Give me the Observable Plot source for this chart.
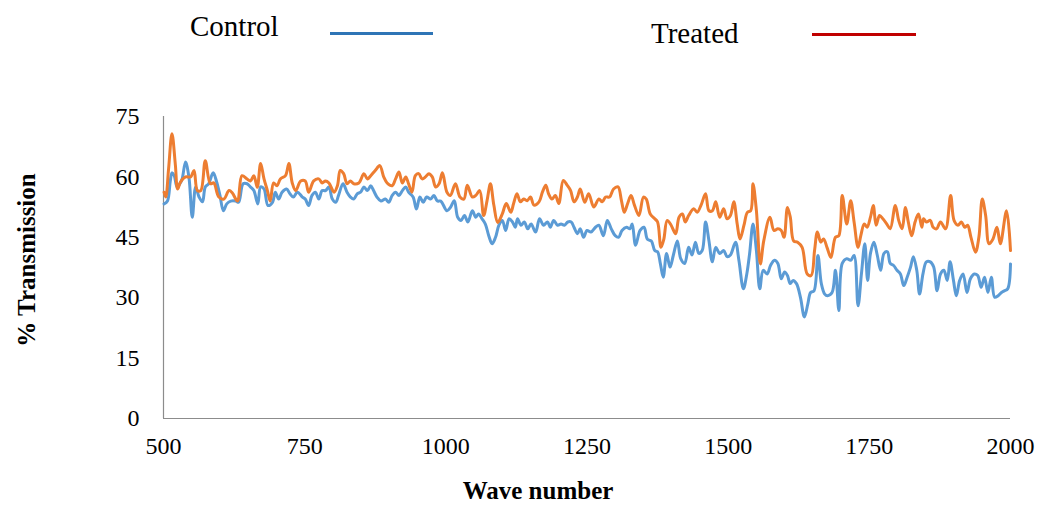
<!DOCTYPE html>
<html>
<head>
<meta charset="utf-8">
<script src="https://cdn.jsdelivr.net/npm/d3@7"></script>
<script src="https://cdn.jsdelivr.net/npm/@observablehq/plot@0.6"></script>
<style>
  body { margin: 0; background: #fff; }
  #wrap { position: relative; width: 1039px; height: 505px; overflow: hidden; background: #fff; }
  #wrap svg { position: absolute; left: 0; top: 0; }
  .t { position: absolute; font-family: "Liberation Serif", "Times New Roman", serif; line-height: 1; white-space: nowrap; color: #000; }
  .lg { font-size: 29px; }
  .sw { position: absolute; height: 3px; }
  .ax { font-size: 25px; font-weight: bold; }
</style>
</head>
<body>
<div id="wrap">
  <div class="t lg" style="left:190px; top:12px;">Control</div>
  <div class="sw" style="left:330px; top:32px; width:103px; background:#2E75B6;"></div>
  <div class="t lg" style="left:651px; top:19px;">Treated</div>
  <div class="sw" style="left:812px; top:33px; width:104px; background:#C00000;"></div>
  <div class="t ax" style="left:538px; top:478px; transform: translateX(-50%);">Wave number</div>
  <div class="t ax" style="left:26px; top:260px; transform: translate(-50%,-50%) rotate(-90deg);">% Transmission</div>
</div>
<script>
const seriesNames = ["Control", "Treated"];
const xTicks = [500, 750, 1000, 1250, 1500, 1750, 2000];
const yTicks = [0, 15, 30, 45, 60, 75];

const controlWave = [501,507,512,515,519,524,529,533,539,545,551,557,563,569,574,580,588,594,600,606,612,619,628,633,641,648,654,660,667,672,678,685,693,698,704,710,718,724,730,737,746,751,757,763,769,775,781,787,793,799,805,810,818,825,831,837,843,849,855,861,867,872,878,885,893,899,905,911,917,923,929,934,942,948,954,960,966,973,979,985,991,1002,1008,1015,1021,1027,1033,1039,1047,1053,1058,1064,1070,1076,1082,1088,1094,1100,1106,1112,1118,1123,1127,1133,1139,1145,1151,1159,1166,1173,1180,1185,1191,1198,1204,1210,1216,1222,1227,1233,1238,1244,1250,1257,1265,1271,1279,1286,1293,1300,1306,1312,1320,1326,1330,1336,1344,1351,1357,1364,1370,1375,1380,1385,1391,1397,1403,1410,1416,1423,1430,1436,1442,1448,1454,1460,1466,1472,1478,1485,1492,1498,1504,1513,1519,1527,1533,1538,1544,1550,1556,1562,1569,1575,1582,1588,1594,1600,1605,1610,1615,1621,1628,1635,1641,1646,1652,1659,1665,1671,1676,1684,1690,1696,1702,1710,1717,1723,1730,1736,1742,1747,1752,1758,1764,1770,1776,1782,1787,1793,1799,1805,1811,1817,1823,1828,1834,1839,1845,1851,1858,1864,1870,1876,1882,1888,1893,1899,1904,1910,1916,1923,1929,1936,1942,1948,1954,1960,1966,1972,1978,1984,1989,1995,2000];
const controlValue = [53.3,54,59,61,60.3,57.5,58.3,59.5,63.7,60,50,57.5,55,53.8,57.5,58.3,61,58.8,55.4,51.6,53.3,54,54,53.7,58.3,58.3,57.5,56.6,53.3,57.5,57,52.9,53.7,56.2,54.5,56.2,57,55.8,55,56.2,55,54.5,52.9,55.4,56.2,54.5,56.6,56.6,57.5,54.5,53.7,55.4,58.3,56.2,55,54.5,55.8,56.2,57.5,56.6,57.8,56.6,55,54,54.5,53.7,55.4,56.2,55.4,56.6,57.5,56.2,55,52,55,53.7,55,54.5,55.4,54,54,51.6,52.4,54.1,50,49.2,50.4,48.8,51.6,50,50.8,49.6,48.3,45.4,43.4,45,48,49.2,46.7,49.6,48.8,47.5,49.6,48,48.8,47.1,48.3,46.3,49.6,48,48.8,47.5,49.2,48,48.3,48,48.8,48.8,47.5,45.9,47.1,45,46.7,46.3,47.5,48,45.4,49.2,47.1,45.4,45,46.7,47.5,47.1,48.3,43,46.7,47.5,44.5,44.1,41.7,41.4,38.4,35.1,41,37.6,40.6,44.1,39.7,38.5,42.5,40.6,43.8,41,41.7,48.8,44.1,38.9,42.5,41,41.7,40.2,40.6,43.8,39.3,32.2,35.9,41,48.3,41.7,32.2,36.8,35.9,38,39.3,38.5,34.7,36.4,35.5,33.5,34.3,33.5,30.1,25.2,28.4,31.3,31.7,40.5,33.5,30.9,30.5,31.3,36.8,26.8,38.5,39.7,39.3,40.5,28,35.9,43.4,34.3,41,43.8,40.6,36.8,41,41.4,38.5,38,36.8,35.9,33,35.1,37.6,40.2,36.8,30.9,35.9,38.9,38.9,37.6,31.7,35.9,36.8,34.3,38.9,34.3,30.5,34.3,35.9,31.3,34.7,35.9,35.5,32.6,35.1,31.3,35.1,30.1,30.5,31.3,31.7,32.2,38.4];

const treatedWave = [501,504,509,515,521,525,530,539,548,554,560,566,574,583,589,598,607,616,622,631,639,648,654,660,666,672,678,684,689,695,701,707,716,722,728,734,743,751,757,766,775,781,787,793,802,808,813,819,825,831,837,846,855,861,867,875,883,890,896,905,911,917,923,929,934,940,946,952,958,964,970,976,982,988,994,1002,1008,1017,1025,1032,1038,1047,1053,1060,1067,1073,1079,1085,1092,1100,1107,1115,1120,1126,1132,1138,1144,1150,1156,1165,1171,1177,1182,1188,1194,1200,1208,1215,1221,1227,1233,1238,1246,1253,1262,1271,1277,1283,1290,1297,1305,1311,1316,1322,1328,1334,1342,1350,1355,1362,1370,1375,1381,1386,1392,1399,1407,1413,1419,1424,1430,1439,1445,1452,1460,1466,1472,1478,1485,1492,1498,1504,1510,1516,1521,1528,1534,1540,1544,1550,1557,1563,1574,1581,1588,1594,1599,1605,1610,1616,1623,1631,1640,1647,1653,1658,1664,1669,1675,1682,1690,1696,1702,1710,1717,1723,1730,1735,1741,1746,1752,1757,1762,1768,1774,1781,1787,1796,1802,1808,1814,1819,1825,1831,1837,1843,1846,1851,1858,1863,1869,1876,1885,1894,1900,1907,1913,1919,1924,1930,1938,1944,1950,1956,1962,1969,1976,1982,1993,2000];
const treatedValue = [56.2,55,62,70.7,63,57,58.7,60,60,61.6,56.6,56.6,64,58.3,58.5,55,54.5,56.6,56,54,60.3,59.5,59,60.3,57.4,63.3,59.5,56.6,54,58.5,57.8,59.5,60.3,63.3,58.5,56.6,59,59,56.2,59,59.5,58.5,59,58.5,56.2,57.8,61.6,60.8,58.3,59,58.3,58.5,60.8,59.5,60.3,61.6,62.8,60,58.5,57.8,59.5,61.2,58.5,60,58.3,56.2,60.3,60.8,59.5,60,60.8,60,57.5,58.3,61,56.2,55.4,58.3,55,54.5,57.9,55,55.4,56.6,50.4,54.1,58.3,53,48.7,50.8,53.4,51.2,53.4,55.8,53.8,54.5,54.1,55,53,53.8,56.2,57.9,55.8,54.5,55.4,53.4,59.1,57.9,56.6,53.8,55,57,53.7,55.8,52.5,54.5,53.8,55,55,57,57.5,54.1,51.2,53.4,55.4,53,50.4,55,54.5,50.8,49.6,48.8,42.5,44.5,49.2,48,45.9,50,50.8,48.8,50.4,52.1,51.2,53,55.8,51.6,51.6,53.8,50,52.1,49.6,50.4,53.8,48.3,44.6,48,51.2,51.6,58.3,51.6,38.4,44.1,50,46.7,47.1,46.7,45,52.4,50,44.1,43.8,42.5,35.9,35.5,41.7,46.3,43.8,44.6,42.5,40,45,45.4,55.4,48.3,54.1,48.8,42.5,45.5,48.3,47.5,50,52.9,48,50.4,49.6,48.3,47.1,52.9,49.2,47.1,52.4,48.8,45.4,48.8,50.8,47.5,49.6,48.8,49.2,47.5,47.1,48.8,47.1,55.4,49.2,48,48.8,47.5,48,45,41.3,45,54.5,50.4,43.4,44.6,47.5,43.4,51.6,41.7];

const control = controlWave.map((w, i) => ({wave: w, value: controlValue[i], series: seriesNames[0]}));
const treated = treatedWave.map((w, i) => ({wave: w, value: treatedValue[i], series: seriesNames[1]}));

const chart = Plot.plot({
  width: 1039,
  height: 505,
  marginLeft: 163,
  marginRight: 29,
  marginTop: 116,
  marginBottom: 87,
  style: { fontFamily: '"Liberation Serif", "Times New Roman", serif', fontSize: "24px", color: "#000", background: "transparent", overflow: "visible" },
  x: { domain: [500, 2000], ticks: xTicks, tickFormat: d => String(d), tickSize: 0, tickPadding: 18, label: null },
  y: { domain: [0, 75], ticks: yTicks, tickFormat: d => String(d), tickSize: 0, tickPadding: 24, label: null },
  marks: [
    Plot.ruleX([500], { stroke: "#8c8c8c", strokeWidth: 1.2 }),
    Plot.ruleY([0], { stroke: "#8c8c8c", strokeWidth: 1.2 }),
    Plot.line(control, { x: "wave", y: "value", stroke: "#5B9BD5", strokeWidth: 3, curve: "catmull-rom" }),
    Plot.line(treated, { x: "wave", y: "value", stroke: "#ED7D31", strokeWidth: 3, curve: "catmull-rom" })
  ]
});
document.getElementById("wrap").prepend(chart);
</script>
</body>
</html>
